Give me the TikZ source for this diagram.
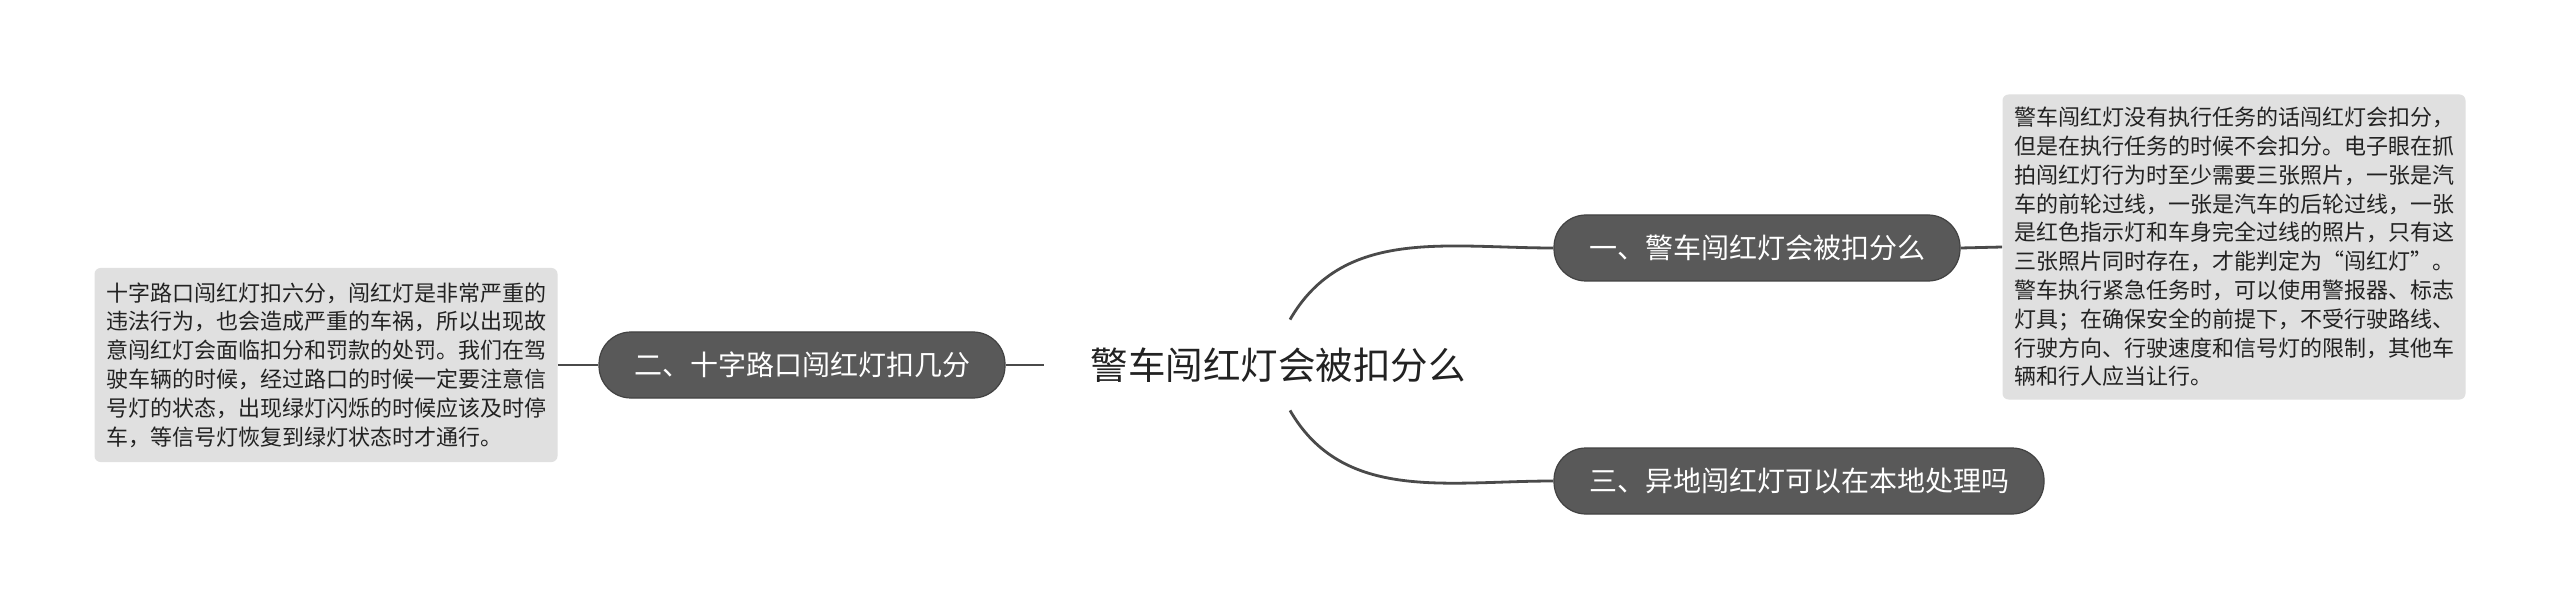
\documentclass[tikz,border=0pt]{standalone}
\usepackage{fontspec}
\newfontfamily\cjk{Noto Sans CJK SC}
\usepackage{tikz}
\definecolor{topicfill}{RGB}{89,89,89}
\definecolor{topicdraw}{RGB}{66,66,66}
\definecolor{notefill}{RGB}{224,224,224}
\definecolor{linkcol}{RGB}{74,74,74}
\definecolor{textcol}{RGB}{34,34,34}

\begin{document}
\begin{tikzpicture}[x=0.5pt,y=-0.5pt,
    roottopic/.style={font=\cjk\fontsize{18.75}{22}\selectfont,text=textcol,
      minimum height=45pt,inner xsep=23pt},
    topic/.style={font=\cjk\fontsize{14}{17}\selectfont,text=white,fill=topicfill,
      draw=topicdraw,line width=0.6pt,rounded corners=16pt,minimum height=33pt,inner xsep=17.5pt},
    notebox/.style={font=\cjk\fontsize{11}{14.4}\selectfont,text=textcol,fill=notefill,
      rounded corners=3pt,text width=220pt,align=left,inner xsep=5.75pt},
    link/.style={draw=linkcol,line width=1.4pt}]
      \fill[white] (0,0) rectangle (2560,609);
      \useasboundingbox (0,0) rectangle (2560,609);
      \node[roottopic] (root) at (1278,365) {警车闯红灯会被扣分么};
      \node[topic] (b1) at (1757,248) {一、警车闯红灯会被扣分么};
      \node[topic] (b2) at (802,365) {二、十字路口闯红灯扣几分};
      \node[topic] (b3) at (1799,481) {三、异地闯红灯可以在本地处理吗};
      \node[notebox,minimum height=152.5pt] (note1) at (2234,247) {警车闯红灯没有执行任务的话闯红灯会扣分，\\但是在执行任务的时候不会扣分。电子眼在抓\\拍闯红灯行为时至少需要三张照片，一张是汽\\车的前轮过线，一张是汽车的后轮过线，一张\\是红色指示灯和车身完全过线的照片，只有这\\三张照片同时存在，才能判定为“闯红灯”。\\警车执行紧急任务时，可以使用警报器、标志\\灯具；在确保安全的前提下，不受行驶路线、\\行驶方向、行驶速度和信号灯的限制，其他车\\辆和行人应当让行。};
      \node[notebox,minimum height=97pt] (note2) at (326,365) {十字路口闯红灯扣六分，闯红灯是非常严重的\\违法行为，也会造成严重的车祸，所以出现故\\意闯红灯会面临扣分和罚款的处罚。我们在驾\\驶车辆的时候，经过路口的时候一定要注意信\\号灯的状态，出现绿灯闪烁的时候应该及时停\\车，等信号灯恢复到绿灯状态时才通行。};
      \draw[link] ([xshift=6pt]root.north) to[out=60,in=180] (b1.west);
      \draw[link] ([xshift=6pt]root.south) to[out=-60,in=180] (b3.west);
      \draw[link] (b2.east) -- (root.west);
      \draw[link] (note2.east) -- (b2.west);
      \draw[link] (b1.east) -- (note1.west);
\end{tikzpicture}
\end{document}
